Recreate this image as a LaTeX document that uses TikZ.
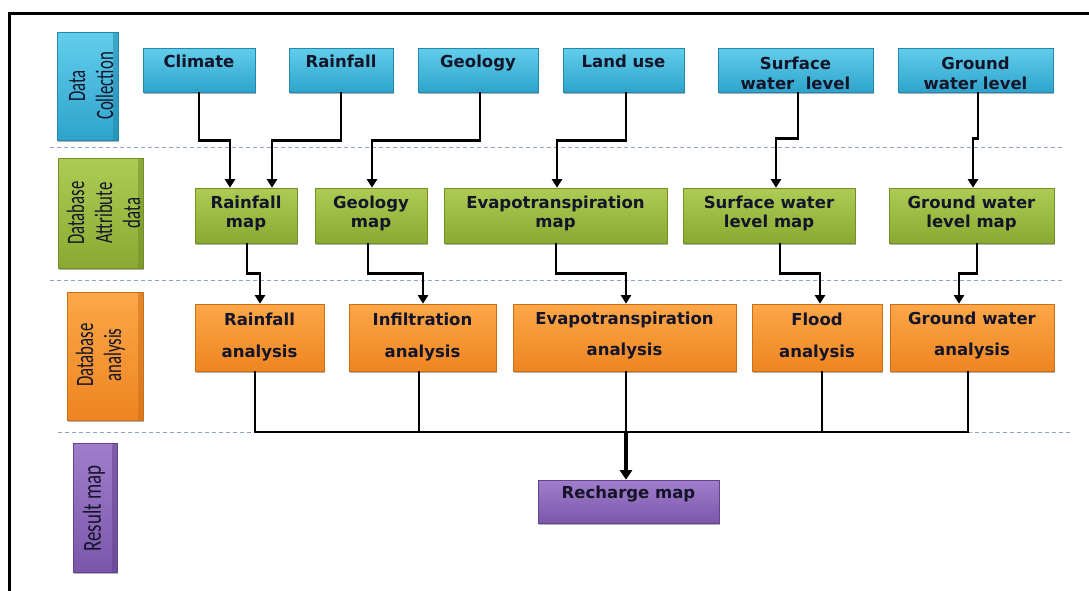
\documentclass[tikz,border=0pt]{standalone}
\usepackage{fontspec}
\usepackage{graphicx}
\usetikzlibrary{arrows.meta,shadows,calc}
\newfontfamily\boxfont{DejaVu Sans}
\newfontfamily\sidefont{Carlito}
\definecolor{cyanT}{HTML}{62CEEB}
\definecolor{cyanB}{HTML}{2EA3CB}
\definecolor{cyanD}{HTML}{2388AD}
\definecolor{grnT}{HTML}{AECC55}
\definecolor{grnB}{HTML}{89A931}
\definecolor{grnD}{HTML}{728F27}
\definecolor{orgT}{HTML}{FBA748}
\definecolor{orgB}{HTML}{EE8521}
\definecolor{orgD}{HTML}{CC6E17}
\definecolor{purT}{HTML}{A07ECB}
\definecolor{purB}{HTML}{7B57AB}
\definecolor{purD}{HTML}{62438D}
\definecolor{txtc}{HTML}{15152A}
\definecolor{dashc}{HTML}{8CA3C4}
\newcommand{\twoline}[3][0pt]{\begin{tabular}[t]{@{}c@{}}#2\\[#1]#3\end{tabular}}
\newcommand{\sidelab}[2]{\scalebox{#1}[1]{\begin{tabular}{@{}c@{}}#2\end{tabular}}}
\begin{document}
\begin{tikzpicture}[x=1pt,y=-1pt,
  basebox/.style={rectangle, inner sep=0pt, line width=0.6pt,
    drop shadow={shadow xshift=1.3pt, shadow yshift=-1.6pt, opacity=0.3, fill=black}},
  cbox/.style={basebox, top color=cyanT, bottom color=cyanB, draw=cyanD},
  gbox/.style={basebox, top color=grnT, bottom color=grnB, draw=grnD},
  obox/.style={basebox, top color=orgT, bottom color=orgB, draw=orgD},
  pbox/.style={basebox, top color=purT, bottom color=purB, draw=purD},
  boxtxt/.style={anchor=base, inner sep=0pt, text=txtc,
    font=\boxfont\bfseries\fontsize{16.5}{19.5}\selectfont},
  sidetxt/.style={rotate=90, inner sep=0pt, text=txtc,
    font=\sidefont\fontsize{25}{28}\selectfont},
  sep/.style={dashc, line width=0.8pt, dash pattern=on 4pt off 3pt},
  conn/.style={line width=2.8pt, -{Triangle[width=10pt,length=8.5pt]}},
  wire/.style={line width=2.6pt},
  bigconn/.style={line width=4.2pt, -{Triangle[width=12pt,length=9.5pt]}}
]
\useasboundingbox (0,0) rectangle (1089,590);
% frame
\draw[line width=3pt] (9,600) -- (9,13) -- (1100,13);
% separators
\draw[sep] (50,147) -- (1063,147);
\draw[sep] (50,280) -- (1063,280);
\draw[sep] (58,432) -- (1073,432);

% side boxes
\node[cbox, minimum width=61pt, minimum height=108pt] (dc) at (87.5,86) {};
\node[gbox, minimum width=85pt, minimum height=110pt] (da) at (100.5,213) {};
\node[obox, minimum width=76pt, minimum height=128pt] (dan) at (105,356) {};
\node[pbox, minimum width=44pt, minimum height=129pt] (rm) at (95,507.5) {};
\fill[cyanD, opacity=0.55] ([xshift=-5pt]dc.north east) rectangle (dc.south east);
\fill[grnD, opacity=0.55] ([xshift=-5pt]da.north east) rectangle (da.south east);
\fill[orgD, opacity=0.55] ([xshift=-5pt]dan.north east) rectangle (dan.south east);
\fill[purD, opacity=0.55] ([xshift=-5pt]rm.north east) rectangle (rm.south east);
\node[sidetxt] (dct) at (93.5,86) {\sidelab{0.67}{Data\\Collection}};
\node[sidetxt] (dat) at (106.5,213) {\sidelab{0.67}{Database\\Attribute\\data}};
\node[sidetxt] (dant) at (101.5,355) {\sidelab{0.67}{Database\\analysis}};
\node[sidetxt, font=\sidefont\fontsize{26}{29}\selectfont] (rmt) at (95,508.5) {\sidelab{0.73}{Result map}};

% row 1: data collection
\node[cbox, minimum width=112pt, minimum height=44pt] (climate) at (199,70) {};
\node[cbox, minimum width=104pt, minimum height=44pt] (rainfall) at (341,70) {};
\node[cbox, minimum width=120pt, minimum height=44pt] (geology) at (478,70) {};
\node[cbox, minimum width=121pt, minimum height=44pt] (landuse) at (623.5,70) {};
\node[cbox, minimum width=155pt, minimum height=44pt] (swl) at (795.5,70) {};
\node[cbox, minimum width=155pt, minimum height=44pt] (gwl) at (975.5,70) {};
\node[boxtxt] (climatet) at (199,67.5) {Climate};
\node[boxtxt] (rainfallt) at (341,67.5) {Rainfall};
\node[boxtxt] (geologyt) at (478,67.5) {Geology};
\node[boxtxt] (landuset) at (623.5,67.5) {Land use};
\node[boxtxt] (swlt) at (795.5,69.5) {\twoline{Surface}{water\ \ level}};
\node[boxtxt] (gwlt) at (975.5,69.5) {\twoline{Ground}{water level}};

% row 2: database attribute data
\node[gbox, minimum width=102pt, minimum height=55pt] (rmap) at (246,215.5) {};
\node[gbox, minimum width=112pt, minimum height=55pt] (gmap) at (371,215.5) {};
\node[gbox, minimum width=223pt, minimum height=55pt] (emap) at (555.5,215.5) {};
\node[gbox, minimum width=172pt, minimum height=55pt] (smap) at (769,215.5) {};
\node[gbox, minimum width=165pt, minimum height=55pt] (wmap) at (971.5,215.5) {};
\node[boxtxt] (rmapt) at (246,208) {\twoline{Rainfall}{map}};
\node[boxtxt] (gmapt) at (371,208) {\twoline{Geology}{map}};
\node[boxtxt] (emapt) at (555.5,208) {\twoline{Evapotranspiration}{map}};
\node[boxtxt] (smapt) at (769,208) {\twoline{Surface water}{level map}};
\node[boxtxt] (wmapt) at (971.5,208) {\twoline{Ground water}{level map}};

% row 3: database analysis
\node[obox, minimum width=129pt, minimum height=67pt] (ranl) at (259.5,337.5) {};
\node[obox, minimum width=147pt, minimum height=67pt] (infl) at (422.5,337.5) {};
\node[obox, minimum width=223pt, minimum height=67pt] (eanl) at (624.5,337.5) {};
\node[obox, minimum width=130pt, minimum height=67pt] (flood) at (817,337.5) {};
\node[obox, minimum width=164pt, minimum height=67pt] (gwanl) at (972,337.5) {};
\node[boxtxt] (ranlt) at (259.5,325.5) {\twoline[12pt]{Rainfall}{analysis}};
\node[boxtxt] (inflt) at (422.5,325.5) {\twoline[12pt]{Infiltration}{analysis}};
\node[boxtxt] (eanlt) at (624.5,324) {\twoline[12pt]{Evapotranspiration}{analysis}};
\node[boxtxt] (floodt) at (817,325.5) {\twoline[12pt]{Flood}{analysis}};
\node[boxtxt] (gwanlt) at (972,324) {\twoline[12pt]{Ground water}{analysis}};

% row 4: result
\node[pbox, minimum width=181pt, minimum height=43pt] (recharge) at (628.5,501.5) {};
\node[boxtxt] (recharget) at (628.5,498) {Recharge map};

% connectors: collection -> attribute
\draw[conn] (climate.south) -- ++(0,48) -| ([xshift=-16pt]rmap.north);
\draw[conn] (rainfall.south) -- ++(0,48) -| ([xshift=26pt]rmap.north);
\draw[conn] ([xshift=2pt]geology.south) -- ++(0,48) -| ([xshift=1pt]gmap.north);
\draw[conn] ([xshift=2.5pt]landuse.south) -- ++(0,48) -| ([xshift=1.5pt]emap.north);
\draw[conn] ([xshift=2.5pt]swl.south) -- ++(0,46) -| ([xshift=7pt]smap.north);
\draw[conn] ([xshift=2.5pt]gwl.south) -- ++(0,46) -| ([xshift=1.5pt]wmap.north);
% attribute -> analysis
\draw[conn] ([xshift=1pt]rmap.south) -- ++(0,30) -| ([xshift=0.5pt]ranl.north);
\draw[conn] ([xshift=-3pt]gmap.south) -- ++(0,30) -| ([xshift=0.5pt]infl.north);
\draw[conn] ([xshift=0.5pt]emap.south) -- ++(0,30) -| ([xshift=1.5pt]eanl.north);
\draw[conn] ([xshift=11pt]smap.south) -- ++(0,30) -| ([xshift=3pt]flood.north);
\draw[conn] ([xshift=5.5pt]wmap.south) -- ++(0,30) -| ([xshift=-13pt]gwanl.north);
% analysis -> bus -> result
\coordinate (bus) at (626,432);
\draw[wire] ([xshift=-4.5pt]ranl.south) |- (bus);
\draw[wire] ([xshift=-3.5pt]infl.south) |- (bus);
\draw[wire] ([xshift=1.5pt]eanl.south) -- (bus);
\draw[wire] ([xshift=5pt]flood.south) |- (bus);
\draw[wire] ([xshift=-4pt]gwanl.south) |- (bus);
\draw[bigconn] (bus) -- (bus |- recharge.north);
\end{tikzpicture}
\end{document}
